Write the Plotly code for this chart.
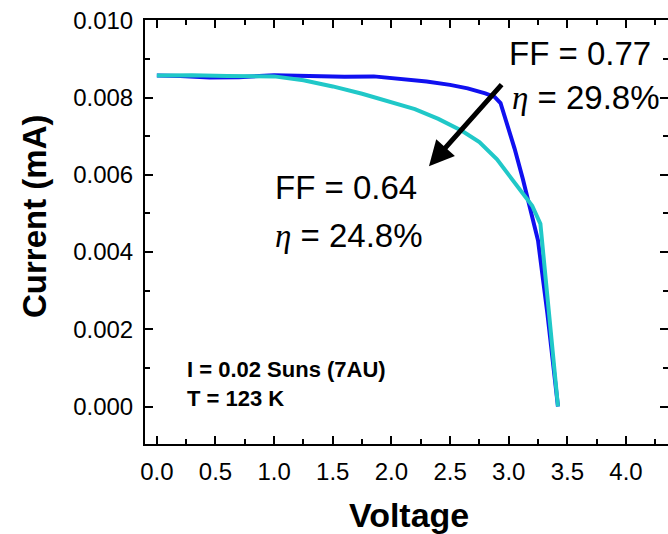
import plotly.graph_objects as go

# ---- data ----
blue_v = [0.0, 0.2, 0.45, 0.7, 1.0, 1.3, 1.6, 1.85, 2.1, 2.3, 2.5, 2.65, 2.8, 2.88, 2.93, 2.98, 3.05, 3.12, 3.18, 3.25, 3.33, 3.42]
blue_i = [0.00857, 0.00856, 0.00852, 0.00853, 0.00858, 0.00856, 0.00854, 0.00855, 0.00849, 0.00842, 0.00833, 0.00824, 0.00811, 0.00802, 0.00786, 0.00740, 0.00668, 0.00590, 0.00520, 0.00430, 0.00240, 0.0]

cyan_v = [0.0, 0.3, 0.6, 1.0, 1.25, 1.5, 1.75, 2.0, 2.2, 2.4, 2.6, 2.75, 2.9, 3.0, 3.1, 3.2, 3.27, 3.42]
cyan_i = [0.00857, 0.00858, 0.00856, 0.00855, 0.00845, 0.00829, 0.00810, 0.00789, 0.00770, 0.00745, 0.00714, 0.00685, 0.00640, 0.00600, 0.00562, 0.00520, 0.00473, 0.0]

x_tick_vals = [0.0, 0.5, 1.0, 1.5, 2.0, 2.5, 3.0, 3.5, 4.0]
y_tick_vals = [0.000, 0.002, 0.004, 0.006, 0.008, 0.010]

x_range = [-0.101, 4.358]
y_range = [-0.00097, 0.01001]

ff_high = "FF = 0.77"
eta_high = "29.8%"
ff_low = "FF = 0.64"
eta_low = "24.8%"
cond_1 = "I = 0.02 Suns (7AU)"
cond_2 = "T = 123 K"

FONT = "Liberation Sans, Arial, sans-serif"

fig = go.Figure()
fig.add_trace(go.Scatter(x=blue_v, y=blue_i, mode="lines",
                         line=dict(color="#1010f0", width=4), showlegend=False))
fig.add_trace(go.Scatter(x=cyan_v, y=cyan_i, mode="lines",
                         line=dict(color="#20c8c8", width=4), showlegend=False))
# dummy trace to create right-side tick axis
fig.add_trace(go.Scatter(x=[None], y=[None], yaxis="y2", showlegend=False))

axis_common = dict(
    showline=True, linecolor="black", linewidth=2,
    ticks="inside", ticklen=8, tickwidth=2, tickcolor="black",
    showgrid=False, zeroline=False,
    tickfont=dict(family=FONT, size=24, color="black"),
)

fig.update_layout(
    width=668, height=534,
    margin=dict(l=145, r=0, t=20, b=90),
    paper_bgcolor="white", plot_bgcolor="white",
    xaxis=dict(range=x_range, tickvals=x_tick_vals, tickformat=".1f",
               mirror="ticks", ticklabelstandoff=5,
               minor=dict(dtick=0.25, tick0=0, ticks="inside", ticklen=5, tickwidth=2, tickcolor="black"),
               **axis_common),
    yaxis=dict(range=y_range, tickvals=y_tick_vals, tickformat=".3f",
               ticklabelstandoff=5,
               minor=dict(dtick=0.001, tick0=0, ticks="inside", ticklen=5, tickwidth=2, tickcolor="black"),
               **axis_common),
    yaxis2=dict(range=y_range, overlaying="y", side="right", showline=False,
                ticks="inside", ticklen=8, tickwidth=2, tickcolor="black",
                tickvals=y_tick_vals, showticklabels=False, showgrid=False, zeroline=False,
                minor=dict(dtick=0.001, tick0=0, ticks="inside", ticklen=5, tickwidth=2, tickcolor="black")),
)

eta = '<span style="font-family:Liberation Serif, Times New Roman, serif"><i>η</i></span>'

anns = [
    dict(x=-0.2122, y=0.5377, xref="paper", yref="paper", text="<b>Current (mA)</b>",
         textangle=-90, showarrow=False, xanchor="center", yanchor="middle",
         font=dict(family=FONT, size=33, color="black")),
    dict(x=0.5048, y=-0.1675, xref="paper", yref="paper", text="<b>Voltage</b>",
         showarrow=False, xanchor="center", yanchor="middle",
         font=dict(family=FONT, size=34, color="black")),
    dict(x=2.985, y=0.009154, text=ff_high, showarrow=False, xanchor="left", yanchor="middle",
         font=dict(family=FONT, size=33, color="black")),
    dict(x=3.01, y=0.00801, text=eta + " = " + eta_high, showarrow=False, xanchor="left", yanchor="middle",
         font=dict(family=FONT, size=33, color="black")),
    dict(x=0.99, y=0.005676, text=ff_low, showarrow=False, xanchor="left", yanchor="middle",
         font=dict(family=FONT, size=33, color="black")),
    dict(x=0.99, y=0.00443, text=eta + " = " + eta_low, showarrow=False, xanchor="left", yanchor="middle",
         font=dict(family=FONT, size=33, color="black")),
    dict(x=0.24, y=0.000952, text="<b>" + cond_1 + "</b>", showarrow=False, xanchor="left", yanchor="middle",
         font=dict(family=FONT, size=22, color="black")),
    dict(x=0.24, y=0.0002, text="<b>" + cond_2 + "</b>", showarrow=False, xanchor="left", yanchor="middle",
         font=dict(family=FONT, size=22, color="black")),
    dict(x=2.32, y=0.006221, ax=2.951, ay=0.008376, axref="x", ayref="y", text="",
         showarrow=True, arrowhead=2, arrowsize=1, arrowwidth=5, arrowcolor="black", standoff=0),
]
fig.update_layout(annotations=anns)

fig.write_html("out.html", config={"displayModeBar": False},
               post_script="document.body.style.margin='0px';document.body.style.overflow='hidden';")
